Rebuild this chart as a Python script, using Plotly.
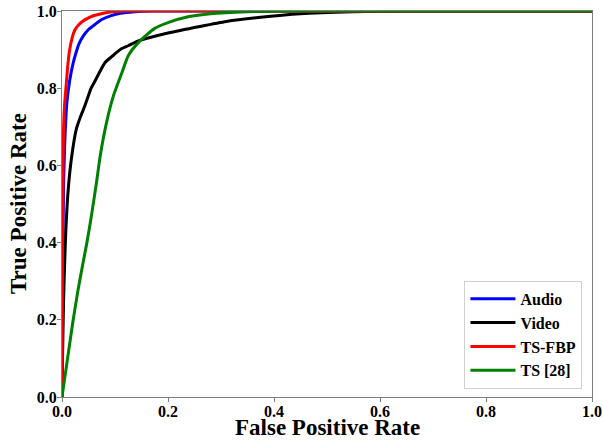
import plotly.graph_objects as go

# ROC curve data
audio_fpr = [0, 0.001, 0.003, 0.005, 0.0065, 0.009, 0.0145, 0.021, 0.026, 0.032, 0.040, 0.050, 0.062, 0.075, 0.093, 0.11, 0.137, 0.17, 1.0]
audio_tpr = [0, 0.30, 0.55, 0.65, 0.70, 0.76, 0.82, 0.865, 0.89, 0.915, 0.935, 0.952, 0.965, 0.978, 0.988, 0.994, 0.998, 1.0, 1.0]

video_fpr = [0, 0.001, 0.003, 0.0063, 0.0113, 0.0176, 0.027, 0.036, 0.043, 0.055, 0.062, 0.081, 0.094, 0.112, 0.125, 0.143, 0.157, 0.20, 0.26, 0.31, 0.37, 0.45, 0.55, 0.65, 1.0]
video_tpr = [0, 0.10, 0.25, 0.40, 0.53, 0.616, 0.694, 0.73, 0.754, 0.80, 0.818, 0.866, 0.882, 0.902, 0.91, 0.922, 0.928, 0.943, 0.96, 0.973, 0.983, 0.993, 0.998, 1.0, 1.0]

tsfbp_fpr = [0, 0.001, 0.002, 0.003, 0.005, 0.008, 0.011, 0.0145, 0.019, 0.024, 0.032, 0.043, 0.058, 0.074, 0.095, 0.12, 1.0]
tsfbp_tpr = [0, 0.40, 0.60, 0.70, 0.76, 0.81, 0.86, 0.90, 0.93, 0.95, 0.965, 0.977, 0.987, 0.993, 0.998, 1.0, 1.0]

ts28_fpr = [0, 0.005, 0.010, 0.020, 0.030, 0.040, 0.047, 0.055, 0.065, 0.072, 0.084, 0.097, 0.113, 0.125, 0.144, 0.175, 0.20, 0.238, 0.28, 0.35, 0.45, 1.0]
ts28_tpr = [0, 0.048, 0.095, 0.19, 0.275, 0.35, 0.40, 0.465, 0.555, 0.624, 0.711, 0.78, 0.84, 0.884, 0.918, 0.955, 0.97, 0.985, 0.993, 0.998, 1.0, 1.0]

series_names = ["Audio", "Video", "TS-FBP", "TS [28]"]
series_colors = ["#0000ff", "#000000", "#ff0000", "#008000"]
tick_vals = [0.0, 0.2, 0.4, 0.6, 0.8, 1.0]
tick_text = ["0.0", "0.2", "0.4", "0.6", "0.8", "1.0"]
x_title = "False Positive Rate"
y_title = "True Positive Rate"

FONT = "Liberation Serif"

fig = go.Figure()
for name, color, xs, ys in zip(series_names, series_colors,
                               [audio_fpr, video_fpr, tsfbp_fpr, ts28_fpr],
                               [audio_tpr, video_tpr, tsfbp_tpr, ts28_tpr]):
    fig.add_trace(go.Scatter(x=xs, y=ys, mode="lines", name="<b>" + name + "</b>",
                             line=dict(color=color, width=3, shape="spline", smoothing=0.6)))

axis_common = dict(
    range=[0, 1], tickvals=tick_vals, ticktext=["<b>" + t + "</b>" for t in tick_text],
    showgrid=False, zeroline=False, automargin=False, ticklabeloverflow="allow",
    showline=True, mirror=True, linecolor="#7f7f7f", linewidth=1,
    ticks="outside", ticklen=4, tickcolor="#7f7f7f", tickwidth=1,
    tickfont=dict(family=FONT, size=16, color="black"),
)

fig.update_layout(
    width=603, height=441,
    margin=dict(l=62, r=11, t=11, b=44),
    font=dict(family=FONT, color="black"),
    paper_bgcolor="white", plot_bgcolor="white",
    xaxis=dict(**axis_common, ticklabelstandoff=-4),
    yaxis=dict(**axis_common, ticklabelstandoff=-3),
    annotations=[
        dict(text="<b>" + x_title + "</b>",
             xref="paper", yref="paper", x=0.5, y=-0.078,
             xanchor="center", yanchor="middle", showarrow=False,
             font=dict(family=FONT, size=23, color="black")),
        dict(text="<b>" + y_title + "</b>", textangle=-90,
             xref="paper", yref="paper", x=-0.083, y=0.5,
             xanchor="center", yanchor="middle", showarrow=False,
             font=dict(family=FONT, size=23, color="black")),
    ],
    legend=dict(x=0.982, xanchor="right", y=0.021, yanchor="bottom",
                bgcolor="white", bordercolor="#d0d0d0", borderwidth=1,
                font=dict(family=FONT, size=16, color="black"),
                itemwidth=45, tracegroupgap=0),
    showlegend=True,
)

# remove the default 8px page margin so the figure sits at the window's corner
fig.write_html("out.html", config={"displayModeBar": False},
               post_script="document.body.style.margin='0';")
